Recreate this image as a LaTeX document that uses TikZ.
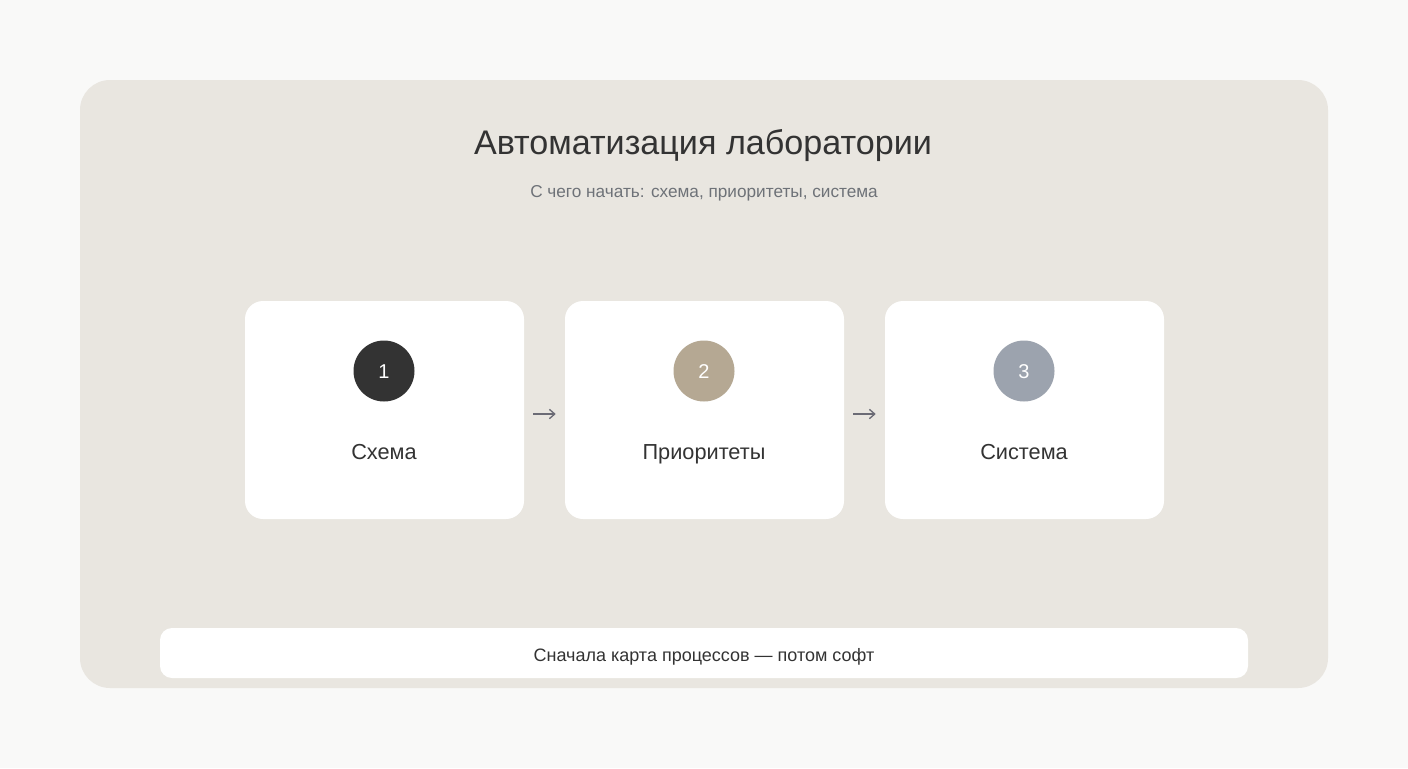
\documentclass[tikz,border=0pt]{standalone}
\usepackage{fontspec}
\setmainfont{Liberation Sans}
\usetikzlibrary{arrows.meta}
\definecolor{pagebg}{HTML}{F9F9F8}
\definecolor{panelbg}{HTML}{E9E6E0}
\definecolor{ink}{HTML}{333333}
\definecolor{subink}{HTML}{6E7278}
\definecolor{arrowink}{HTML}{6B6B75}
\definecolor{cone}{HTML}{333333}
\definecolor{ctwo}{HTML}{B5A893}
\definecolor{cthree}{HTML}{9CA3AE}
\tikzset{
  card/.style={fill=white, draw=none, rounded corners=18*0.75pt, minimum width=279*0.75pt, minimum height=218*0.75pt, inner sep=0pt},
  badge/.style={circle, draw=none, minimum size=61*0.75pt, inner sep=0pt},
  badgenum/.style={anchor=base, inner sep=0pt, text=white, font=\fontsize{15pt}{17pt}\selectfont},
  cardlabel/.style={anchor=base, text=ink, font=\fontsize{16.3pt}{19pt}\selectfont, inner sep=0pt},
  flow/.style={draw=arrowink, line width=1.1pt, -{Straight Barb[length=4pt,width=7pt,line width=1pt]}, shorten <=9*0.75pt, shorten >=9*0.75pt}
}
\begin{document}
\begin{tikzpicture}[x=0.75pt,y=-0.75pt]
\fill[pagebg] (0,0) rectangle (1408,768);
\useasboundingbox (0,0) rectangle (1408,768);
\fill[panelbg, rounded corners=30*0.75pt] (80,80) rectangle (1328,688);
\node[anchor=base, text=ink, font=\fontsize{25.6pt}{30pt}\selectfont, inner sep=0pt] (title) at (703,154) {Автоматизация лаборатории};
\node[anchor=base, text=subink, font=\fontsize{12.9pt}{15pt}\selectfont, inner sep=0pt] (subtitle) at (704,197) {С чего начать: схема, приоритеты, система};

\node[card] (c1) at (384.5,410) {};
\node[card] (c2) at (704.5,410) {};
\node[card] (c3) at (1024.5,410) {};

\node[badge, fill=cone] (b1) at (384,371) {};
\node[badge, fill=ctwo] (b2) at (704,371) {};
\node[badge, fill=cthree] (b3) at (1024,371) {};
\node[badgenum] (n1) at (384,378) {1};
\node[badgenum] (n2) at (704,378) {2};
\node[badgenum] (n3) at (1024,378) {3};

\node[cardlabel] (l1) at (384,459) {Схема};
\node[cardlabel] (l2) at (704,459) {Приоритеты};
\node[cardlabel] (l3) at (1024,459) {Система};

\draw[flow] ([yshift=-4*0.75pt]c1.east) -- ([yshift=-4*0.75pt]c2.west);
\draw[flow] ([yshift=-4*0.75pt]c2.east) -- ([yshift=-4*0.75pt]c3.west);

\node[fill=white, rounded corners=12*0.75pt, minimum width=1088*0.75pt, minimum height=50*0.75pt, inner sep=0pt] (note) at (704,653) {};
\node[anchor=base, text=ink, font=\fontsize{13.5pt}{16pt}\selectfont, inner sep=0pt] (notetext) at (704,661) {Сначала карта процессов — потом софт};
\end{tikzpicture}
\end{document}
